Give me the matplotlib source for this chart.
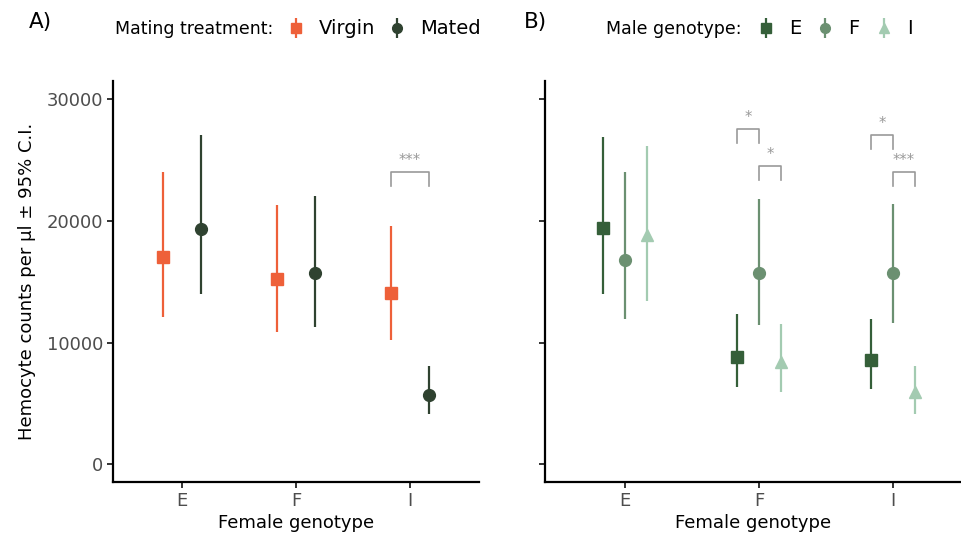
import matplotlib.pyplot as plt
from matplotlib.lines import Line2D
from matplotlib.legend_handler import HandlerTuple

plt.rcParams['font.family'] = ['DejaVu Sans']

genotypes = ["E", "F", "I"]

# panel A: mating treatment
mating = ["Virgin", "Mated"]
a_mean = {"Virgin": [17000, 15200, 14100], "Mated": [19300, 15700, 5700]}
a_lo = {"Virgin": [12100, 10900, 10200], "Mated": [14000, 11300, 4150]}
a_hi = {"Virgin": [24050, 21300, 19600], "Mated": [27100, 22050, 8100]}
a_col = {"Virgin": "#EE6039", "Mated": "#2F4230"}
a_mark = {"Virgin": "s", "Mated": "o"}

# panel B: male genotype
males = ["E", "F", "I"]
b_mean = {"E": [19400, 8800, 8600], "F": [16800, 15700, 15700], "I": [18850, 8400, 5950]}
b_lo = {"E": [14000, 6350, 6200], "F": [11950, 11400, 11600], "I": [13450, 5950, 4150]}
b_hi = {"E": [26950, 12350, 11950], "F": [24000, 21850, 21400], "I": [26200, 11550, 8100]}
b_col = {"E": "#355F39", "F": "#6B9071", "I": "#A3CBB1"}
b_mark = {"E": "s", "F": "o", "I": "^"}

# significance brackets: (x1, x2, y, label)
sig_a = [(3 - 0.17, 3 + 0.17, 24050, "***")]
sig_b = [(2 - 0.164, 2, 27570, "*"), (2, 2 + 0.164, 24530, "*"),
         (3 - 0.164, 3, 27080, "*"), (3, 3 + 0.164, 24030, "***")]

fig = plt.figure(figsize=(9.61, 5.41), dpi=100)
W, H = 961, 541
axA = fig.add_axes([113 / W, (H - 482) / H, (479 - 113) / W, (482 - 81) / H])
axB = fig.add_axes([545 / W, (H - 482) / H, (961 - 545) / W, (482 - 81) / H])

def style(ax, xlim, labels=True):
    ax.set_xlim(*xlim)
    ax.set_ylim(-1480, 31520)
    ax.set_xticks([1, 2, 3])
    ax.set_xticklabels(genotypes)
    ax.set_yticks([0, 10000, 20000, 30000])
    if not labels:
        ax.set_yticklabels([])
    for s in ["top", "right"]:
        ax.spines[s].set_visible(False)
    for s in ["left", "bottom"]:
        ax.spines[s].set_linewidth(1.6)
    ax.tick_params(length=4, width=1.4, color="#333333", labelcolor="#4D4D4D",
                   labelsize=13, pad=3)
    ax.set_xlabel("Female genotype", fontsize=13, labelpad=3)

def bracket(ax, x1, x2, y, lab):
    h = 1150
    ax.plot([x1, x1, x2, x2], [y - h, y, y, y - h], color="#999999", lw=1.2)
    ax.text((x1 + x2) / 2, y + 300, lab, ha="center", va="bottom",
            color="#999999", fontsize=10.5)

# panel A
offs = {"Virgin": -0.17, "Mated": 0.17}
for m in mating:
    xs = [i + 1 + offs[m] for i in range(3)]
    axA.vlines(xs, a_lo[m], a_hi[m], color=a_col[m], lw=1.6)
    axA.plot(xs, a_mean[m], a_mark[m], color=a_col[m], ms=8 if a_mark[m] == "s" else 8.5, ls="none")
style(axA, (0.395, 3.605))
axA.set_ylabel("Hemocyte counts per µl ± 95% C.I.", fontsize=13, labelpad=8)
for x1, x2, y, lab in sig_a:
    bracket(axA, x1, x2, y, lab)

# panel B
offb = {"E": -0.164, "F": 0.0, "I": 0.164}
for m in males:
    xs = [i + 1 + offb[m] for i in range(3)]
    axB.vlines(xs, b_lo[m], b_hi[m], color=b_col[m], lw=1.6)
    ms = {"s": 8, "o": 8.5, "^": 9}[b_mark[m]]
    axB.plot(xs, b_mean[m], b_mark[m], color=b_col[m], ms=ms, ls="none")
style(axB, (0.403, 3.507), labels=False)
for x1, x2, y, lab in sig_b:
    bracket(axB, x1, x2, y, lab)

# panel letters
fig.text(29 / W, 1 - 22 / H, "A)", fontsize=15.5, va="center", ha="left")
fig.text(524 / W, 1 - 22 / H, "B)", fontsize=15.5, va="center", ha="left")

# legends
def handle(col, mk):
    return (Line2D([], [], color=col, marker="|", ms=15, mew=1.6, ls="none"),
            Line2D([], [], color=col, marker=mk, ms=7, ls="none"))

hm = {tuple: HandlerTuple(ndivide=1, pad=0)}
fig.text(115 / W, 1 - 29 / H, "Mating treatment:", fontsize=12.5, va="center")
fig.legend([handle(a_col[m], a_mark[m]) for m in mating], mating, handler_map=hm,
           loc="center left", bbox_to_anchor=(288 / W, 1 - 29 / H), ncol=2,
           frameon=False, fontsize=14, handlelength=0.8, handletextpad=0.78,
           columnspacing=0.75, borderpad=0, borderaxespad=0)

fig.text(606 / W, 1 - 29 / H, "Male genotype:", fontsize=12.5, va="center")
fig.legend([handle(b_col[m], b_mark[m]) for m in males], males, handler_map=hm,
           loc="center left", bbox_to_anchor=(758 / W, 1 - 29 / H), ncol=3,
           frameon=False, fontsize=14, handlelength=0.8, handletextpad=0.78,
           columnspacing=0.85, borderpad=0, borderaxespad=0)

fig.savefig("out.png", dpi=100)
